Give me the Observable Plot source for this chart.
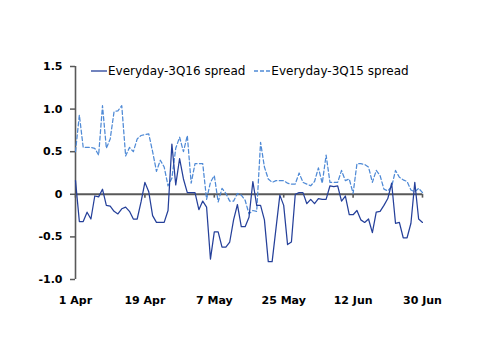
<!DOCTYPE html>
<html>
<head>
<meta charset="utf-8">
<script src="https://cdn.jsdelivr.net/npm/d3@7"></script>
<script src="https://cdn.jsdelivr.net/npm/@observablehq/plot@0.6"></script>
<style>
  html, body { margin: 0; padding: 0; background: #fff; }
  #wrap { position: relative; width: 500px; height: 354px; }
  #legend { position: absolute; left: 91px; top: 64px; font: 12px "DejaVu Sans", sans-serif; color: #000; display: flex; align-items: center; white-space: nowrap; }
  #legend .item { display: flex; align-items: center; margin-right: 9px; }
  #legend svg { margin-right: 1px; }
</style>
</head>
<body>
<div id="wrap">
  <div id="chart"></div>
  <div id="legend"></div>
</div>
<script>
// Daily values, 1 Apr to 30 Jun
const startDate = "2016-04-01";
const seriesNames = ["Everyday-3Q16 spread", "Everyday-3Q15 spread"];
const spread3Q16 = [
  0.16, -0.32, -0.32, -0.21, -0.29, -0.02, -0.03, 0.06, -0.13, -0.14,
  -0.20, -0.23, -0.17, -0.15, -0.20, -0.29, -0.29, -0.09, 0.14, 0.03,
  -0.25, -0.33, -0.33, -0.33, -0.19, 0.59, 0.11, 0.42, 0.18, 0.02,
  0.02, 0.02, -0.18, -0.08, -0.15, -0.76, -0.44, -0.44, -0.62, -0.62,
  -0.56, -0.30, -0.12, -0.38, -0.38, -0.27, 0.15, -0.13, -0.13, -0.30,
  -0.79, -0.79, -0.40, -0.01, -0.13, -0.59, -0.56, 0.00, 0.02, 0.02,
  -0.11, -0.06, -0.11, -0.05, -0.06, -0.06, 0.10, 0.09, 0.10, -0.08,
  -0.02, -0.24, -0.24, -0.19, -0.30, -0.33, -0.29, -0.45, -0.21, -0.20,
  -0.13, -0.05, 0.13, -0.34, -0.33, -0.51, -0.51, -0.34, 0.14, -0.29,
  -0.33
];
const spread3Q15 = [
  0.50, 0.93, 0.55, 0.55, 0.55, 0.54, 0.46, 1.04, 0.54, 0.65,
  0.97, 0.98, 1.04, 0.45, 0.55, 0.50, 0.65, 0.69, 0.70, 0.71,
  0.50, 0.27, 0.40, 0.32, 0.10, 0.19, 0.54, 0.67, 0.50, 0.69,
  0.13, 0.36, 0.36, 0.36, -0.06, 0.14, 0.22, -0.09, 0.07, 0.01,
  -0.08, -0.08, 0.01, -0.01, -0.07, -0.23, -0.19, -0.20, 0.61, 0.32,
  0.18, 0.14, 0.16, 0.16, 0.16, 0.13, 0.12, 0.12, 0.25, 0.14,
  0.12, 0.10, 0.15, 0.31, 0.13, 0.46, 0.14, 0.14, 0.14, 0.28,
  0.16, 0.18, 0.01, 0.36, 0.36, 0.35, 0.32, 0.14, 0.28, 0.22,
  0.06, 0.04, 0.09, 0.28, 0.20, 0.17, 0.15, 0.05, 0.03, 0.07,
  0.02
];
const yTicks = [-1.0, -0.5, 0, 0.5, 1.0, 1.5];
const xTickLabels = ["1 Apr", "19 Apr", "7 May", "25 May", "12 Jun", "30 Jun"];
const colors = ["#25409A", "#4F8AD6"];

const start = new Date(startDate + "T00:00:00Z");
const day = i => new Date(start.getTime() + i * 86400000);
const xTicks = xTickLabels.map((_, i) => day(i * 18));
const end = day(spread3Q16.length - 1);

const rows16 = spread3Q16.map((v, i) => ({date: day(i), v}));
const rows15 = spread3Q15.map((v, i) => ({date: day(i), v}));
const fmtX = d => xTickLabels[xTicks.findIndex(t => +t === +d)];

const chart = Plot.plot({
  width: 500,
  height: 354,
  marginLeft: 75,
  marginRight: 78,
  marginTop: 66,
  marginBottom: 75,
  style: {fontFamily: "DejaVu Sans, sans-serif", fontSize: "11px", color: "#000", background: "#fff"},
  x: {type: "utc", domain: [start, end]},
  y: {domain: [-1, 1.5]},
  marks: [
    Plot.axisY({ticks: yTicks, tickSize: 5, tickPadding: 8, tickFormat: d => d === 0 ? "0" : d.toFixed(1), label: null, fontWeight: "bold", stroke: "#595959", strokeWidth: 1.5}),
    Plot.axisX({ticks: xTicks, tickSize: 0, tickPadding: 17, tickFormat: fmtX, label: null, fontWeight: "bold"}),
    Plot.ruleX([start], {y1: -1, y2: 1.5, stroke: "#595959", strokeWidth: 1.6}),
    Plot.ruleY([0], {stroke: "#595959", strokeWidth: 2}),
    Plot.ruleX(xTicks, {y1: 0, y2: -0.045, stroke: "#595959", strokeWidth: 1.6}),
    Plot.line(rows15, {x: "date", y: "v", stroke: colors[1], strokeWidth: 1.25, strokeDasharray: "4,2.5"}),
    Plot.line(rows16, {x: "date", y: "v", stroke: colors[0], strokeWidth: 1.25})
  ]
});
document.getElementById("chart").appendChild(chart);

const legend = document.getElementById("legend");
seriesNames.forEach((name, i) => {
  const item = document.createElement("div");
  item.className = "item";
  const dash = i === 1 ? ' stroke-dasharray="4,2"' : '';
  item.innerHTML = `<svg width="16" height="10"><line x1="0" y1="5" x2="16" y2="5" stroke="${colors[i]}" stroke-width="1.3"${dash}/></svg><span>${name}</span>`;
  legend.appendChild(item);
});
</script>
</body>
</html>
